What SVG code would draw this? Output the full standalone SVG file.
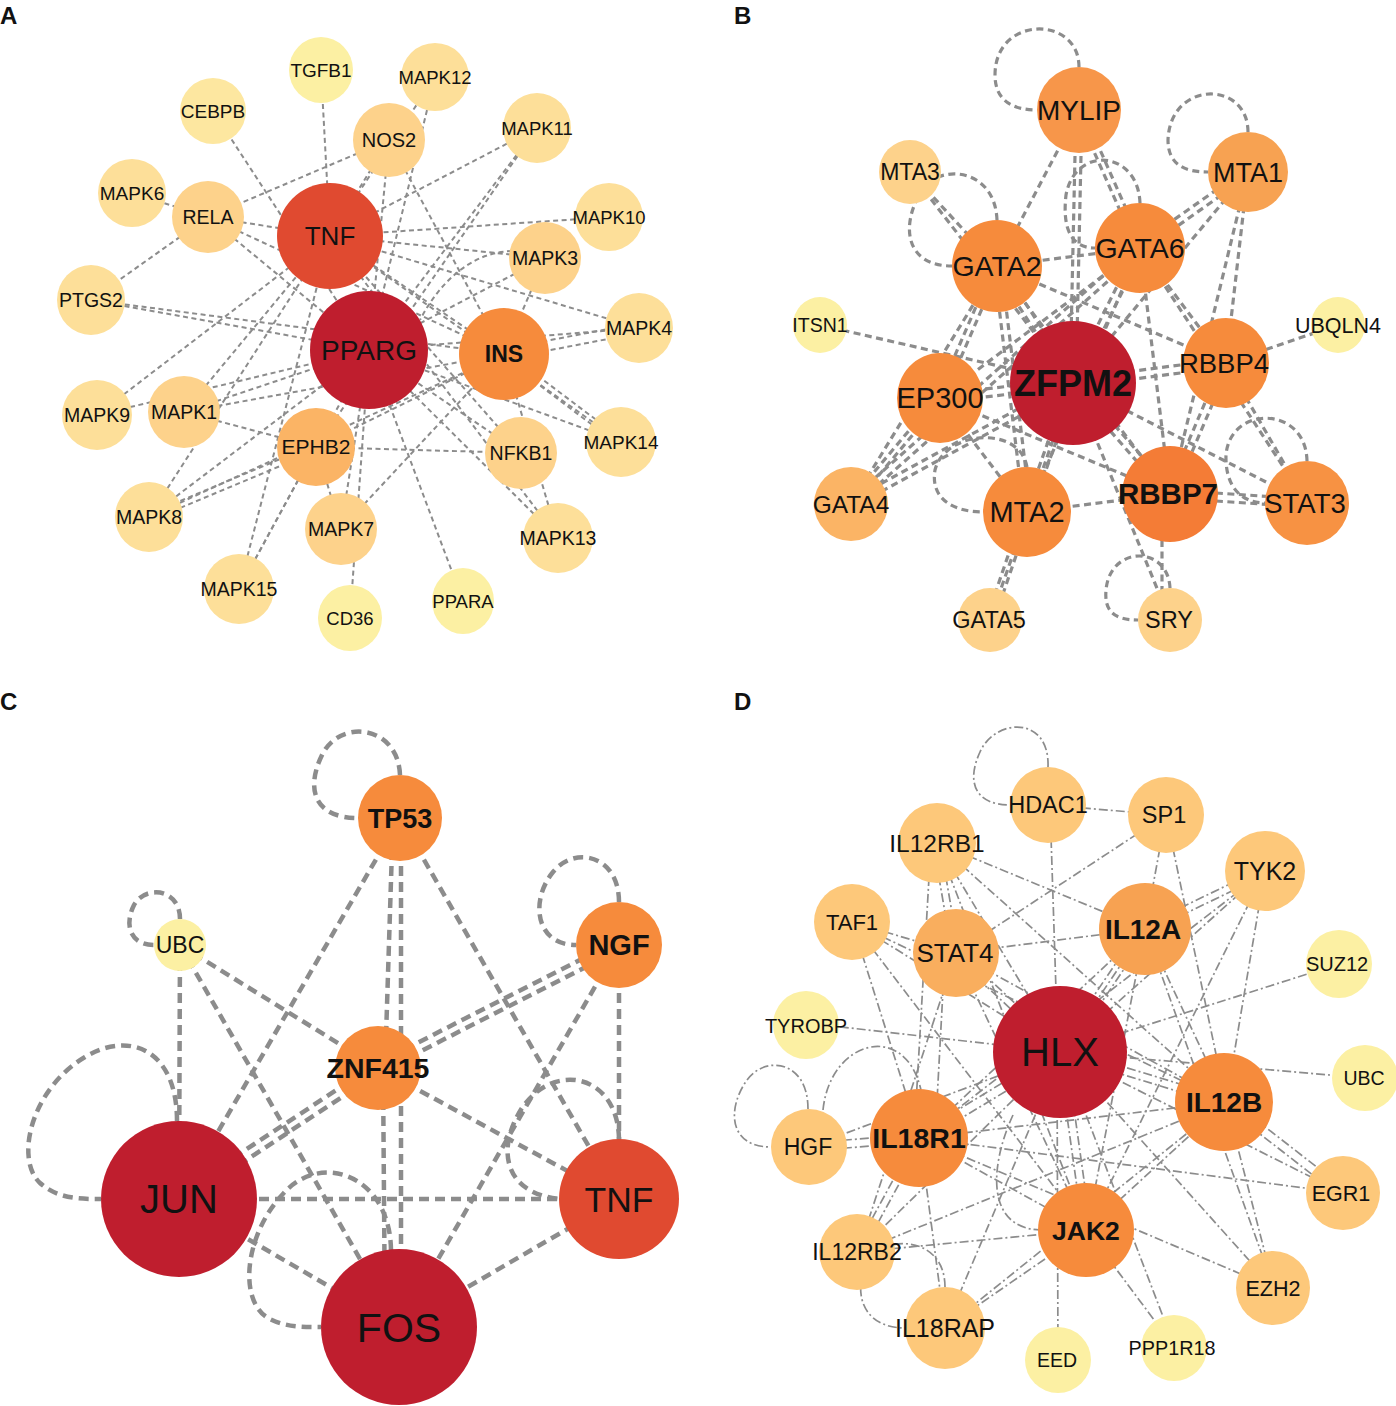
<svg xmlns="http://www.w3.org/2000/svg" width="1396" height="1406" viewBox="0 0 1396 1406">
<style>
.ea{stroke:#8c8c8c;stroke-width:2;stroke-dasharray:5 3.5;fill:none}
.eb{stroke:#8c8c8c;stroke-width:3.2;stroke-dasharray:7 4.5;fill:none}
.ec{stroke:#8c8c8c;stroke-width:4.5;stroke-dasharray:10 6;fill:none}
.ed{stroke:#8c8c8c;stroke-width:1.7;stroke-dasharray:9 3 2 3;fill:none}
text{font-family:"Liberation Sans",Arial,sans-serif;text-anchor:middle;fill:#111}
.pl{font-weight:bold;font-size:24px;text-anchor:start}
.b{font-weight:bold}
.k1{fill:#bf1e2e}.k2{fill:#e04a30}.k3{fill:#f47c36}.k4{fill:#f68b3c}.k5{fill:#f7a252}
.k6{fill:#fbb465}.k7{fill:#fdc87a}.k8{fill:#fdd28b}.k9{fill:#fddf99}.k10{fill:#fde7a0}.k11{fill:#fcf0a3}
</style>
<rect width="1396" height="1406" fill="#fff"/>
<text class="pl" x="0" y="24">A</text>
<text class="pl" x="734" y="24">B</text>
<text class="pl" x="0" y="710">C</text>
<text class="pl" x="734" y="710">D</text>

<g id="edges-A" class="ea">
<line x1="321" y1="70" x2="330" y2="236"/><line x1="389" y1="140" x2="330" y2="236"/><line x1="537" y1="128" x2="330" y2="236"/>
<line x1="609" y1="217" x2="330" y2="236"/><line x1="545" y1="258" x2="330" y2="236"/><line x1="639" y1="328" x2="330" y2="236"/>
<line x1="208" y1="217" x2="330" y2="236"/><line x1="97" y1="415" x2="330" y2="236"/><line x1="149" y1="517" x2="330" y2="236"/>
<line x1="239" y1="589" x2="330" y2="236"/><line x1="521" y1="453" x2="330" y2="236"/><line x1="558" y1="538" x2="330" y2="236"/>
<line x1="621" y1="442" x2="330" y2="236"/><line x1="184" y1="412" x2="330" y2="236"/><line x1="504" y1="354" x2="330" y2="236"/>
<line x1="435" y1="77" x2="330" y2="236"/>
<line x1="213" y1="111" x2="369" y2="350"/><line x1="389" y1="140" x2="369" y2="350"/><line x1="435" y1="77" x2="369" y2="350"/>
<line x1="537" y1="128" x2="369" y2="350"/><line x1="208" y1="217" x2="369" y2="350"/><line x1="91" y1="300" x2="369" y2="350"/>
<line x1="545" y1="258" x2="369" y2="350"/><line x1="639" y1="328" x2="369" y2="350"/><line x1="97" y1="415" x2="369" y2="350"/>
<line x1="184" y1="412" x2="369" y2="350"/><line x1="149" y1="517" x2="369" y2="350"/><line x1="341" y1="529" x2="369" y2="350"/>
<line x1="239" y1="589" x2="369" y2="350"/><line x1="350" y1="618" x2="369" y2="350"/><line x1="463" y1="601" x2="369" y2="350"/>
<line x1="521" y1="453" x2="369" y2="350"/><line x1="558" y1="538" x2="369" y2="350"/><line x1="621" y1="442" x2="369" y2="350"/>
<line x1="545" y1="258" x2="504" y2="354"/><line x1="639" y1="323" x2="504" y2="349"/><line x1="639" y1="333" x2="504" y2="359"/>
<line x1="623" y1="440" x2="506" y2="352"/><line x1="619" y1="445" x2="502" y2="357"/><line x1="558" y1="538" x2="504" y2="354"/>
<line x1="184" y1="412" x2="504" y2="354"/><line x1="149" y1="517" x2="504" y2="354"/><line x1="316" y1="447" x2="504" y2="354"/>
<line x1="341" y1="529" x2="504" y2="354"/><line x1="208" y1="217" x2="504" y2="354"/><line x1="91" y1="300" x2="504" y2="354"/>
<line x1="389" y1="140" x2="504" y2="354"/>
<line x1="132" y1="193" x2="208" y2="217"/><line x1="208" y1="217" x2="91" y2="300"/><line x1="389" y1="140" x2="208" y2="217"/>
<line x1="184" y1="412" x2="316" y2="447"/><line x1="149" y1="514" x2="316" y2="444"/><line x1="149" y1="521" x2="316" y2="451"/>
<line x1="239" y1="589" x2="316" y2="447"/><line x1="537" y1="128" x2="316" y2="447"/><line x1="316" y1="447" x2="521" y2="453"/>
<line x1="341" y1="529" x2="316" y2="447"/>
<path d="M545,258 C500,238 450,262 420,320"/>
</g>

<g id="edges-B" class="eb">
<line x1="820" y1="325" x2="1073" y2="383"/><line x1="1338" y1="325" x2="1226" y2="363"/>
<line x1="1226" y1="359" x2="1073" y2="379"/><line x1="1226" y1="367" x2="1073" y2="387"/>
<line x1="1000" y1="264" x2="1076" y2="381"/><line x1="994" y1="268" x2="1070" y2="385"/>
<line x1="1143" y1="250" x2="1076" y2="385"/><line x1="1137" y1="246" x2="1070" y2="381"/>
<line x1="1076" y1="110" x2="1070" y2="383"/><line x1="1082" y1="110" x2="1076" y2="383"/>
<line x1="1248" y1="172" x2="1073" y2="383"/>
<line x1="1250" y1="175" x2="1142" y2="251"/><line x1="1246" y1="169" x2="1138" y2="245"/>
<line x1="1248" y1="172" x2="1226" y2="363"/><line x1="1248" y1="172" x2="1170" y2="494"/>
<line x1="1079" y1="110" x2="997" y2="266"/>
<line x1="1082" y1="109" x2="1143" y2="247"/><line x1="1076" y1="111" x2="1137" y2="249"/>
<line x1="910" y1="172" x2="997" y2="266"/><line x1="910" y1="172" x2="1073" y2="383"/>
<line x1="997" y1="266" x2="1140" y2="248"/>
<line x1="1000" y1="267" x2="943" y2="399"/><line x1="994" y1="265" x2="937" y2="397"/>
<line x1="994" y1="266" x2="1024" y2="512"/><line x1="1001" y1="266" x2="1031" y2="512"/>
<line x1="997" y1="266" x2="851" y2="504"/><line x1="997" y1="266" x2="1226" y2="363"/><line x1="997" y1="266" x2="1170" y2="494"/>
<line x1="1140" y1="248" x2="1226" y2="363"/><line x1="1140" y1="248" x2="940" y2="398"/>
<line x1="1142" y1="251" x2="853" y2="507"/><line x1="1138" y1="245" x2="849" y2="501"/>
<line x1="1140" y1="248" x2="1170" y2="494"/><line x1="1140" y1="248" x2="1027" y2="512"/><line x1="1140" y1="248" x2="1307" y2="503"/>
<line x1="940" y1="394" x2="1073" y2="379"/><line x1="940" y1="402" x2="1073" y2="387"/>
<line x1="942" y1="400" x2="853" y2="506"/><line x1="938" y1="396" x2="849" y2="502"/>
<line x1="940" y1="398" x2="1027" y2="512"/><line x1="940" y1="398" x2="1170" y2="494"/>
<line x1="851" y1="500" x2="1073" y2="379"/><line x1="851" y1="508" x2="1073" y2="387"/>
<line x1="1023" y1="512" x2="1069" y2="383"/><line x1="1031" y1="512" x2="1077" y2="383"/>
<line x1="1027" y1="512" x2="1170" y2="494"/>
<line x1="1023" y1="512" x2="986" y2="620"/><line x1="1031" y1="512" x2="994" y2="620"/>
<line x1="1172" y1="491" x2="1075" y2="380"/><line x1="1168" y1="497" x2="1071" y2="386"/>
<line x1="1170" y1="490" x2="1307" y2="499"/><line x1="1170" y1="498" x2="1307" y2="507"/>
<line x1="1166" y1="494" x2="1222" y2="363"/><line x1="1174" y1="494" x2="1230" y2="363"/>
<line x1="1162" y1="494" x2="1162" y2="620"/><line x1="1170" y1="620" x2="1073" y2="383"/>
<line x1="1307" y1="503" x2="1073" y2="383"/><line x1="1307" y1="503" x2="1226" y2="363"/>
<line x1="990" y1="620" x2="1073" y2="383"/>
<path d="M1079,67 C1079,15 995,15 995,75 C995,100 1012,110 1037,110"/>
<path d="M1248,132 C1248,80 1170,80 1168,140 C1168,165 1185,172 1208,172"/>
<path d="M997,220 C995,168 940,163 922,190 C900,225 905,266 952,266"/>
<path d="M1140,203 C1138,150 1075,145 1066,195 C1062,230 1072,248 1095,248"/>
<path d="M1307,461 C1306,405 1230,405 1226,455 C1225,485 1240,503 1265,503"/>
<path d="M1170,588 C1168,545 1110,545 1106,590 C1104,612 1115,620 1138,620"/>
<path d="M1027,467 C1020,425 945,430 935,470 C930,500 955,512 983,512"/>
</g>

<g id="edges-C" class="ec">
<line x1="180" y1="945" x2="179" y2="1199"/><line x1="180" y1="945" x2="378" y2="1068"/><line x1="180" y1="945" x2="399" y2="1327"/>
<line x1="400" y1="818" x2="179" y2="1199"/><line x1="393" y1="818" x2="385" y2="1068"/><line x1="401" y1="818" x2="401" y2="1327"/>
<line x1="383" y1="1068" x2="385" y2="1327"/><line x1="400" y1="818" x2="619" y2="1199"/>
<line x1="380.5" y1="1071.7" x2="181.5" y2="1202.7"/><line x1="375.5" y1="1064.3" x2="176.5" y2="1195.3"/>
<line x1="380" y1="1072" x2="621" y2="949"/><line x1="376" y1="1064" x2="617" y2="941"/>
<line x1="378" y1="1068" x2="619" y2="1199"/><line x1="179" y1="1199" x2="619" y2="1199"/>
<line x1="179" y1="1199" x2="399" y2="1327"/><line x1="399" y1="1327" x2="619" y2="1199"/>
<line x1="619" y1="945" x2="619" y2="1199"/><line x1="619" y1="945" x2="399" y2="1327"/>
<path d="M400,775 C398,725 340,718 322,755 C305,790 315,818 358,818"/>
<path d="M619,902 C619,855 575,845 553,872 C530,900 535,945 576,945"/>
<path d="M180,919 C180,888 145,885 134,905 C124,925 130,945 154,945"/>
<path d="M177,1121 C177,1050 130,1030 85,1057 C30,1090 15,1160 40,1183 C58,1199 80,1199 101,1199"/>
<path d="M391,1250 C390,1175 320,1150 282,1195 C245,1235 238,1300 268,1318 C285,1327 300,1327 321,1327"/>
<path d="M619,1139 C618,1075 555,1060 522,1108 C495,1150 505,1193 559,1199"/>
</g>

<g id="edges-D" class="ed">
<line x1="1048" y1="805" x2="1166" y2="815"/><line x1="1050" y1="805" x2="1058" y2="1052"/>
<line x1="1166" y1="815" x2="956" y2="953"/><line x1="1166" y1="815" x2="1145" y2="929"/><line x1="1166" y1="815" x2="1226" y2="1102"/>
<line x1="937" y1="843" x2="1145" y2="929"/>
<line x1="933" y1="843" x2="952" y2="953"/><line x1="940" y1="843" x2="959" y2="953"/>
<line x1="945" y1="953" x2="935" y2="1138"/><line x1="931" y1="843" x2="914" y2="1138"/>
<line x1="937" y1="843" x2="1062" y2="1052"/><line x1="937" y1="843" x2="1226" y2="1102"/><line x1="937" y1="843" x2="1087" y2="1230"/>
<line x1="852" y1="922" x2="956" y2="953"/><line x1="852" y1="922" x2="1062" y2="1052"/><line x1="852" y1="922" x2="1226" y2="1102"/>
<line x1="852" y1="922" x2="1087" y2="1230"/><line x1="852" y1="922" x2="920" y2="1138"/>
<line x1="956" y1="953" x2="1145" y2="929"/>
<line x1="958" y1="950" x2="1064" y2="1049"/><line x1="954" y1="956" x2="1060" y2="1055"/>
<line x1="956" y1="953" x2="1226" y2="1102"/><line x1="956" y1="953" x2="1087" y2="1230"/><line x1="956" y1="953" x2="858" y2="1252"/>
<line x1="806" y1="1023" x2="1062" y2="1052"/><line x1="1339" y1="964" x2="1062" y2="1052"/>
<line x1="1265" y1="867" x2="1145" y2="925"/><line x1="1265" y1="875" x2="1145" y2="933"/>
<line x1="1265" y1="871" x2="1226" y2="1102"/><line x1="1265" y1="871" x2="1087" y2="1230"/>
<line x1="1265" y1="871" x2="1062" y2="1052"/><line x1="1265" y1="871" x2="920" y2="1138"/>
<line x1="1149" y1="932" x2="1066" y2="1055"/><line x1="1141" y1="926" x2="1058" y2="1049"/><line x1="1145" y1="929" x2="1062" y2="1052"/>
<line x1="1145" y1="929" x2="1226" y2="1102"/><line x1="1145" y1="929" x2="920" y2="1138"/>
<line x1="1145" y1="929" x2="1087" y2="1230"/><line x1="1145" y1="929" x2="1274" y2="1288"/>
<line x1="1062" y1="1052" x2="1365" y2="1078"/>
<line x1="1062" y1="1048" x2="1226" y2="1098"/><line x1="1062" y1="1056" x2="1226" y2="1106"/>
<line x1="1062" y1="1052" x2="1343" y2="1193"/><line x1="1062" y1="1052" x2="1274" y2="1288"/>
<line x1="1060" y1="1048" x2="918" y2="1134"/><line x1="1064" y1="1056" x2="922" y2="1142"/>
<line x1="1058" y1="1052" x2="1083" y2="1230"/><line x1="1066" y1="1052" x2="1091" y2="1230"/>
<line x1="1062" y1="1052" x2="945" y2="1328"/><line x1="1062" y1="1052" x2="858" y2="1252"/>
<line x1="1062" y1="1052" x2="1175" y2="1348"/><line x1="1057" y1="1052" x2="1058" y2="1362"/>
<line x1="1062" y1="1052" x2="809" y2="1147"/>
<path d="M1013,1115 C990,1165 985,1228 1040,1230"/>
<line x1="1228" y1="1098" x2="1345" y2="1189"/><line x1="1224" y1="1106" x2="1341" y2="1197"/>
<line x1="1226" y1="1102" x2="1274" y2="1288"/><line x1="1226" y1="1102" x2="920" y2="1138"/>
<line x1="1226" y1="1102" x2="1087" y2="1230"/><line x1="1226" y1="1102" x2="858" y2="1252"/><line x1="1226" y1="1102" x2="945" y2="1328"/>
<line x1="920" y1="1138" x2="1343" y2="1193"/>
<line x1="809" y1="1143" x2="920" y2="1134"/><line x1="809" y1="1151" x2="920" y2="1142"/>
<path d="M823,1110 C830,1040 905,1020 921,1090"/>
<line x1="917" y1="1136" x2="855" y2="1250"/><line x1="923" y1="1140" x2="861" y2="1254"/>
<line x1="920" y1="1138" x2="945" y2="1328"/><line x1="920" y1="1138" x2="1087" y2="1230"/><line x1="920" y1="1138" x2="1274" y2="1288"/>
<line x1="1087" y1="1230" x2="1175" y2="1348"/><line x1="1087" y1="1230" x2="945" y2="1328"/><line x1="1087" y1="1230" x2="858" y2="1252"/>
<path d="M1048,767 C1050,715 995,718 980,752 C966,782 975,805 1010,805"/>
<path d="M808,1109 C808,1060 765,1055 747,1080 C727,1108 728,1147 771,1147"/>
<path d="M945,1287 C945,1238 890,1234 870,1258 C852,1285 858,1328 905,1328"/>
</g>

<!-- Panel A nodes -->
<g id="A-TGFB1"><ellipse class="k11" cx="321" cy="70" rx="32" ry="33"/><text x="321" y="77" font-size="19">TGFB1</text></g>
<g id="A-MAPK12"><ellipse class="k9" cx="435" cy="77" rx="34" ry="34"/><text x="435" y="84" font-size="18.5">MAPK12</text></g>
<g id="A-CEBPB"><ellipse class="k10" cx="213" cy="111" rx="33" ry="33"/><text x="213" y="118" font-size="19">CEBPB</text></g>
<g id="A-NOS2"><ellipse class="k8" cx="389" cy="140" rx="36" ry="37"/><text x="389" y="147" font-size="20">NOS2</text></g>
<g id="A-MAPK11"><ellipse class="k9" cx="537" cy="128" rx="34" ry="35"/><text x="537" y="135" font-size="18.5">MAPK11</text></g>
<g id="A-MAPK6"><ellipse class="k9" cx="132" cy="193" rx="34" ry="34"/><text x="132" y="200" font-size="19">MAPK6</text></g>
<g id="A-RELA"><ellipse class="k8" cx="208" cy="217" rx="36" ry="36"/><text x="208" y="224" font-size="19.5">RELA</text></g>
<g id="A-TNF"><ellipse class="k2" cx="330" cy="236" rx="53" ry="53"/><text x="330" y="245" font-size="26">TNF</text></g>
<g id="A-MAPK10"><ellipse class="k9" cx="609" cy="217" rx="34" ry="34"/><text x="609" y="224" font-size="18.5">MAPK10</text></g>
<g id="A-MAPK3"><ellipse class="k8" cx="545" cy="258" rx="36" ry="36"/><text x="545" y="265" font-size="19.5">MAPK3</text></g>
<g id="A-PTGS2"><ellipse class="k9" cx="91" cy="300" rx="34" ry="35"/><text x="91" y="307" font-size="19.5">PTGS2</text></g>
<g id="A-PPARG"><ellipse class="k1" cx="369" cy="350" rx="59" ry="59"/><text x="369" y="360" font-size="28">PPARG</text></g>
<g id="A-INS"><ellipse class="k4" cx="504" cy="354" rx="45" ry="46"/><text class="b" x="504" y="362" font-size="23">INS</text></g>
<g id="A-MAPK4"><ellipse class="k9" cx="639" cy="328" rx="34" ry="35"/><text x="639" y="335" font-size="19.5">MAPK4</text></g>
<g id="A-MAPK9"><ellipse class="k9" cx="97" cy="415" rx="35" ry="35"/><text x="97" y="422" font-size="19.5">MAPK9</text></g>
<g id="A-MAPK1"><ellipse class="k8" cx="184" cy="412" rx="36" ry="36"/><text x="184" y="419" font-size="19.5">MAPK1</text></g>
<g id="A-EPHB2"><ellipse class="k6" cx="316" cy="447" rx="39" ry="39"/><text x="316" y="454" font-size="21">EPHB2</text></g>
<g id="A-NFKB1"><ellipse class="k8" cx="521" cy="453" rx="36" ry="36"/><text x="521" y="460" font-size="19.5">NFKB1</text></g>
<g id="A-MAPK14"><ellipse class="k9" cx="621" cy="442" rx="35" ry="35"/><text x="621" y="449" font-size="19">MAPK14</text></g>
<g id="A-MAPK8"><ellipse class="k9" cx="149" cy="517" rx="34" ry="35"/><text x="149" y="524" font-size="19.5">MAPK8</text></g>
<g id="A-MAPK7"><ellipse class="k8" cx="341" cy="529" rx="36" ry="36"/><text x="341" y="536" font-size="19.5">MAPK7</text></g>
<g id="A-MAPK13"><ellipse class="k9" cx="558" cy="538" rx="35" ry="35"/><text x="558" y="545" font-size="19.5">MAPK13</text></g>
<g id="A-MAPK15"><ellipse class="k9" cx="239" cy="589" rx="35" ry="35"/><text x="239" y="596" font-size="19.5">MAPK15</text></g>
<g id="A-CD36"><ellipse class="k11" cx="350" cy="618" rx="32" ry="33"/><text x="350" y="625" font-size="18.5">CD36</text></g>
<g id="A-PPARA"><ellipse class="k11" cx="463" cy="601" rx="31" ry="33"/><text x="463" y="608" font-size="18.5">PPARA</text></g>

<!-- Panel B nodes -->
<g id="B-MYLIP"><ellipse fill="#f7964a" cx="1079" cy="110" rx="42" ry="43"/><text x="1079" y="120" font-size="28">MYLIP</text></g>
<g id="B-MTA3"><ellipse class="k8" cx="910" cy="172" rx="31" ry="32"/><text x="910" y="180" font-size="23">MTA3</text></g>
<g id="B-MTA1"><ellipse class="k5" cx="1248" cy="172" rx="40" ry="40"/><text x="1248" y="182" font-size="27">MTA1</text></g>
<g id="B-GATA2"><ellipse class="k4" cx="997" cy="266" rx="45" ry="46"/><text x="997" y="276" font-size="28.5">GATA2</text></g>
<g id="B-GATA6"><ellipse class="k4" cx="1140" cy="248" rx="45" ry="45"/><text x="1140" y="258" font-size="28.5">GATA6</text></g>
<g id="B-ITSN1"><ellipse class="k11" cx="820" cy="325" rx="27" ry="28"/><text x="820" y="332" font-size="19.5">ITSN1</text></g>
<g id="B-UBQLN4"><ellipse class="k11" cx="1338" cy="325" rx="27" ry="28"/><text x="1338" y="333" font-size="21.5">UBQLN4</text></g>
<g id="B-ZFPM2"><ellipse class="k1" cx="1073" cy="383" rx="63" ry="62"/><text class="b" x="1073" y="396" font-size="36">ZFPM2</text></g>
<g id="B-RBBP4"><ellipse class="k4" cx="1226" cy="363" rx="43" ry="45"/><text x="1224" y="373" font-size="27.5">RBBP4</text></g>
<g id="B-EP300"><ellipse class="k4" cx="940" cy="398" rx="43" ry="45"/><text x="940" y="408" font-size="29">EP300</text></g>
<g id="B-GATA4"><ellipse class="k6" cx="851" cy="504" rx="37" ry="37"/><text x="851" y="513" font-size="24.5">GATA4</text></g>
<g id="B-MTA2"><ellipse class="k4" cx="1027" cy="512" rx="44" ry="45"/><text x="1027" y="522" font-size="29">MTA2</text></g>
<g id="B-RBBP7"><ellipse class="k3" cx="1170" cy="494" rx="48" ry="48"/><text class="b" x="1168" y="504" font-size="29.5">RBBP7</text></g>
<g id="B-STAT3"><ellipse fill="#f79243" cx="1307" cy="503" rx="42" ry="42"/><text x="1305" y="513" font-size="27.5">STAT3</text></g>
<g id="B-GATA5"><ellipse class="k8" cx="990" cy="620" rx="32" ry="32"/><text x="989" y="628" font-size="23.5">GATA5</text></g>
<g id="B-SRY"><ellipse class="k8" cx="1170" cy="620" rx="32" ry="32"/><text x="1169" y="628" font-size="23.5">SRY</text></g>

<!-- Panel C nodes -->
<g id="C-TP53"><ellipse class="k4" cx="400" cy="818" rx="42" ry="43"/><text class="b" x="400" y="828" font-size="27">TP53</text></g>
<g id="C-UBC"><ellipse class="k11" cx="180" cy="945" rx="26" ry="26"/><text x="180" y="953" font-size="23">UBC</text></g>
<g id="C-NGF"><ellipse class="k4" cx="619" cy="945" rx="43" ry="43"/><text class="b" x="619" y="955" font-size="29">NGF</text></g>
<g id="C-ZNF415"><ellipse class="k4" cx="378" cy="1068" rx="43" ry="42"/><text class="b" x="378" y="1078" font-size="28.5">ZNF415</text></g>
<g id="C-JUN"><ellipse class="k1" cx="179" cy="1199" rx="78" ry="78"/><text x="179" y="1213" font-size="40">JUN</text></g>
<g id="C-TNF"><ellipse class="k2" cx="619" cy="1199" rx="60" ry="60"/><text x="619" y="1212" font-size="35.5">TNF</text></g>
<g id="C-FOS"><ellipse class="k1" cx="399" cy="1327" rx="78" ry="78"/><text x="399" y="1342" font-size="41">FOS</text></g>

<!-- Panel D nodes -->
<g id="D-HDAC1"><ellipse class="k7" cx="1048" cy="805" rx="38" ry="38"/><text x="1048" y="813" font-size="23.5">HDAC1</text></g>
<g id="D-SP1"><ellipse class="k7" cx="1166" cy="815" rx="38" ry="38"/><text x="1164" y="823" font-size="23.5">SP1</text></g>
<g id="D-IL12RB1"><ellipse class="k7" cx="937" cy="843" rx="39" ry="40"/><text x="937" y="852" font-size="24.5">IL12RB1</text></g>
<g id="D-TYK2"><ellipse class="k7" cx="1265" cy="871" rx="40" ry="40"/><text x="1265" y="880" font-size="25">TYK2</text></g>
<g id="D-TAF1"><ellipse class="k7" cx="852" cy="922" rx="38" ry="38"/><text x="852" y="930" font-size="22">TAF1</text></g>
<g id="D-STAT4"><ellipse fill="#f9ae5e" cx="956" cy="953" rx="43" ry="44"/><text x="955" y="962" font-size="26">STAT4</text></g>
<g id="D-IL12A"><ellipse class="k5" cx="1145" cy="929" rx="46" ry="46"/><text class="b" x="1143" y="939" font-size="28">IL12A</text></g>
<g id="D-SUZ12"><ellipse class="k11" cx="1339" cy="964" rx="33" ry="34"/><text x="1337" y="971" font-size="20">SUZ12</text></g>
<g id="D-TYROBP"><ellipse class="k11" cx="806" cy="1025" rx="33" ry="34"/><text x="806" y="1033" font-size="20">TYROBP</text></g>
<g id="D-HLX"><ellipse class="k1" cx="1060" cy="1052" rx="67" ry="66"/><text x="1060" y="1066" font-size="40">HLX</text></g>
<g id="D-UBC"><ellipse class="k11" cx="1365" cy="1078" rx="33" ry="33"/><text x="1364" y="1085" font-size="19.5">UBC</text></g>
<g id="D-IL12B"><ellipse class="k4" cx="1224" cy="1102" rx="49" ry="49"/><text class="b" x="1224" y="1112" font-size="28">IL12B</text></g>
<g id="D-HGF"><ellipse class="k7" cx="809" cy="1147" rx="38" ry="38"/><text x="808" y="1155" font-size="23">HGF</text></g>
<g id="D-IL18R1"><ellipse class="k4" cx="919" cy="1138" rx="49" ry="49"/><text class="b" x="919" y="1148" font-size="28.5">IL18R1</text></g>
<g id="D-EGR1"><ellipse class="k7" cx="1343" cy="1193" rx="37" ry="37"/><text x="1341" y="1201" font-size="21.5">EGR1</text></g>
<g id="D-JAK2"><ellipse class="k4" cx="1086" cy="1230" rx="48" ry="47"/><text class="b" x="1086" y="1240" font-size="26.5">JAK2</text></g>
<g id="D-IL12RB2"><ellipse class="k7" cx="857" cy="1252" rx="38" ry="38"/><text x="857" y="1260" font-size="23">IL12RB2</text></g>
<g id="D-EZH2"><ellipse class="k7" cx="1273" cy="1288" rx="37" ry="37"/><text x="1273" y="1296" font-size="21.5">EZH2</text></g>
<g id="D-IL18RAP"><ellipse class="k7" cx="945" cy="1328" rx="40" ry="41"/><text x="945" y="1337" font-size="25">IL18RAP</text></g>
<g id="D-EED"><ellipse class="k11" cx="1058" cy="1360" rx="33" ry="33"/><text x="1057" y="1367" font-size="19.5">EED</text></g>
<g id="D-PPP1R18"><ellipse class="k11" cx="1174" cy="1348" rx="33" ry="33"/><text x="1172" y="1355" font-size="19.8">PPP1R18</text></g>
</svg>
